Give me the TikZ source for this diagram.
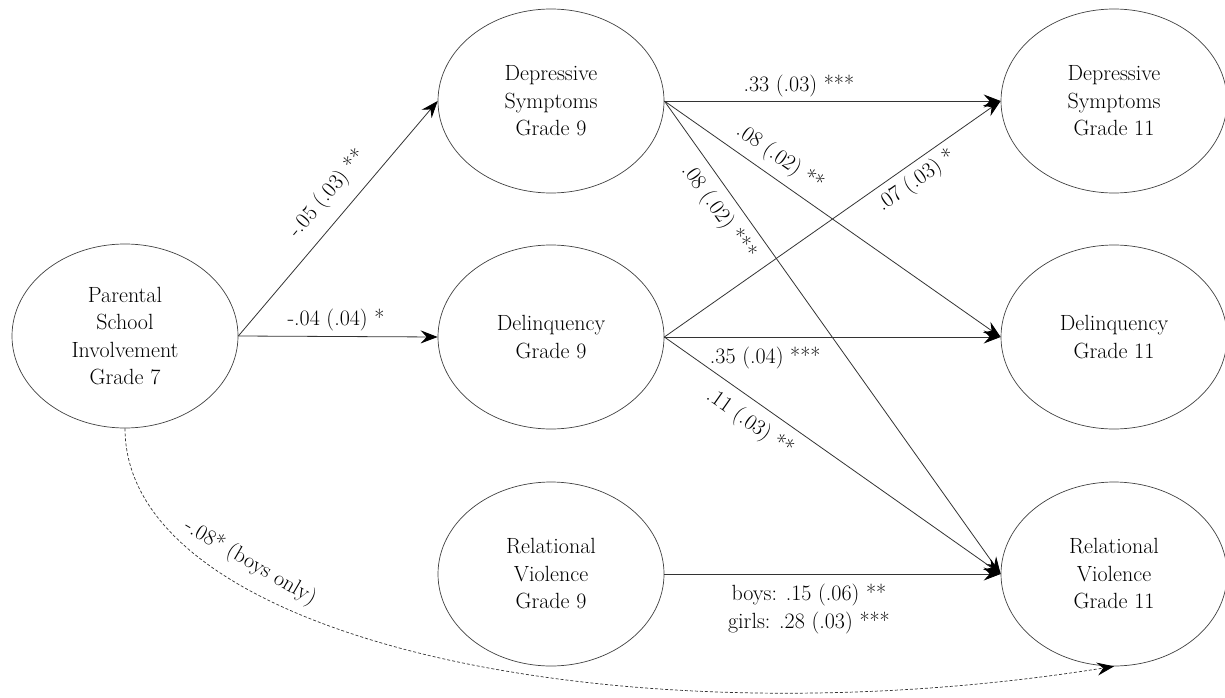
\documentclass[tikz,border=0pt]{standalone}
\newcommand\labsize{\fontsize{22}{27.5}\selectfont}
\usetikzlibrary{shapes.geometric,arrows.meta}
\begin{document}
\begin{tikzpicture}[x=1pt,y=-1pt,
  var/.style={ellipse,draw=black!75,line width=0.7pt,minimum width=226pt,minimum height=184pt,inner sep=0pt,align=center,font=\rmfamily\labsize,text=black},
  effect/.style={draw=black!80,line width=0.8pt,-{Stealth[length=17pt,width=13pt,inset=6pt,color=black,fill=black]}},
  boyseffect/.style={effect,dash pattern=on 3pt off 2pt,line width=0.7pt},
  lab/.style={font=\rmfamily\labsize,inner sep=0pt,align=center,text=black},
]
\useasboundingbox (0,0) rectangle (1225,698);

\node[var] (P) at (125,336) {Parental\\School\\Involvement\\Grade 7};
\node[var] (D9) at (551,101) {Depressive\\Symptoms\\Grade 9};
\node[var] (L9) at (551,337) {Delinquency\\Grade 9};
\node[var] (R9) at (551,574) {Relational\\Violence\\Grade 9};
\node[var] (D11) at (1114,101) {Depressive\\Symptoms\\Grade 11};
\node[var] (L11) at (1114,337) {Delinquency\\Grade 11};
\node[var] (R11) at (1114,574) {Relational\\Violence\\Grade 11};

\draw[effect] (P.east) -- (D9.west) node[lab,pos=0.54,sloped,above=12pt] {-.05 (.03) **};
\draw[effect] (P.east) -- (L9.west) node[lab,pos=0.49,above=5pt] {-.04 (.04) *};

\draw[effect] (D9.east) -- (D11.west) node[lab,pos=0.40,above=4pt] {.33 (.03) ***};
\draw[effect] (D9.east) -- (L11.west) node[lab,pos=0.31,sloped,above=8pt] {.08 (.02) **};
\draw[effect] (D9.east) -- (R11.west) node[lab,pos=0.21,sloped,below=9pt] {.08 (.02) ***};

\draw[effect] (L9.east) -- (D11.west) node[lab,pos=0.72,sloped,below=6pt] {.07 (.03) *};
\draw[effect] (L9.east) -- (L11.west) node[lab,pos=0.30,below=10pt] {.35 (.04) ***};
\draw[effect] (L9.east) -- (R11.west) node[lab,pos=0.29,sloped,below=10pt] {.11 (.03) **};

\draw[effect] (R9.east) -- (R11.west) node[lab,pos=0.43,below=10pt] {boys: .15 (.06) **\\girls: .28 (.03) ***};

\draw[boyseffect] (P.south) .. controls (125,640) and (620,745) .. (R11.south)
  node[lab,pos=0.29,sloped,above=13pt] {-.08* (boys only)};
\end{tikzpicture}
\end{document}
